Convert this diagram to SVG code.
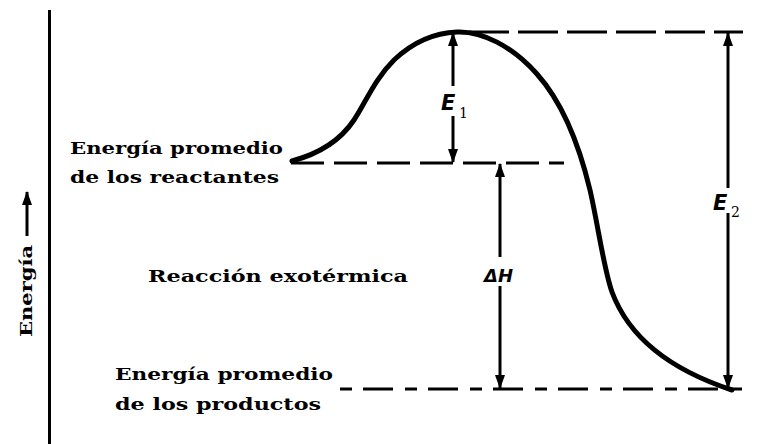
<svg xmlns="http://www.w3.org/2000/svg" width="764" height="444" viewBox="0 0 764 444">
<style>
.lbl{font-family:"DejaVu Serif","Liberation Serif",serif;font-weight:bold;font-size:17.5px;fill:#000}
.sym{font-family:"DejaVu Sans","Liberation Sans",sans-serif;font-style:italic;font-weight:bold;font-size:21px;fill:#000}
.sub{font-family:"DejaVu Serif","Liberation Serif",serif;font-size:14px;fill:#000}
.dash{stroke:#000;stroke-width:3;fill:none}
.arr{stroke:#000;stroke-width:3;fill:none;marker-end:url(#ah)}
</style>
<defs>
<marker id="ah" markerUnits="userSpaceOnUse" markerWidth="14" markerHeight="10" viewBox="0 0 14 10" refX="13" refY="5" orient="auto">
<path d="M0,0 L14,5 L0,10 Z" fill="#000"/>
</marker>
</defs>
<rect width="764" height="444" fill="#fff"/>
<g id="axis">
<line x1="49.5" y1="10" x2="49.5" y2="444" stroke="#000" stroke-width="3"/>
<text class="lbl" transform="translate(32,337) rotate(-90)" textLength="92" lengthAdjust="spacingAndGlyphs">Energía</text>
<line class="arr" x1="27" y1="236" x2="27" y2="192"/>
</g>
<g id="levels">
<line class="dash" x1="469" y1="32" x2="743" y2="32" stroke-dasharray="40 9"/>
<line class="dash" x1="291" y1="163" x2="564" y2="163" stroke-dasharray="33 10"/>
<line class="dash" x1="340" y1="389" x2="743" y2="389" stroke-dasharray="12 11 30 12"/>
</g>
<g id="curve">
<path d="M292,161 C318,154 340,141 354,120 C366,102 374,80 394,60 C412,43 432,33 457,32 C482,31 512,46 537,74 C562,102 578,140 590,190 C598,225 604,270 612,292 C628,335 665,368 732,390" fill="none" stroke="#000" stroke-width="5" stroke-linecap="round"/>
</g>
<g id="reactants">
<text class="lbl" x="70" y="154" textLength="213" lengthAdjust="spacingAndGlyphs">Energía  promedio</text>
<text class="lbl" x="70" y="183" textLength="209" lengthAdjust="spacingAndGlyphs">de  los  reactantes</text>
</g>
<g id="reaction">
<text class="lbl" x="148" y="282" textLength="260" lengthAdjust="spacingAndGlyphs">Reacción  exotérmica</text>
</g>
<g id="products">
<text class="lbl" x="115" y="380" textLength="218" lengthAdjust="spacingAndGlyphs">Energía  promedio</text>
<text class="lbl" x="115" y="410" textLength="206" lengthAdjust="spacingAndGlyphs">de  los  productos</text>
</g>
<g id="connectors">
<line class="arr" x1="453" y1="86" x2="453" y2="33"/>
<line class="arr" x1="453" y1="116" x2="453" y2="162"/>
<line class="arr" x1="500" y1="257" x2="500" y2="164"/>
<line class="arr" x1="500" y1="286" x2="500" y2="388"/>
<line class="arr" x1="728" y1="188" x2="728" y2="33"/>
<line class="arr" x1="728" y1="213" x2="728" y2="388"/>
</g>
<g id="E1">
<text class="sym" x="441" y="110">E</text>
<text class="sub" x="459" y="118">1</text>
</g>
<g id="dH">
<text class="sym" x="484" y="282" style="font-size:18px">ΔH</text>
</g>
<g id="E2">
<text class="sym" x="713" y="210">E</text>
<text class="sub" x="731" y="217">2</text>
</g>
</svg>
